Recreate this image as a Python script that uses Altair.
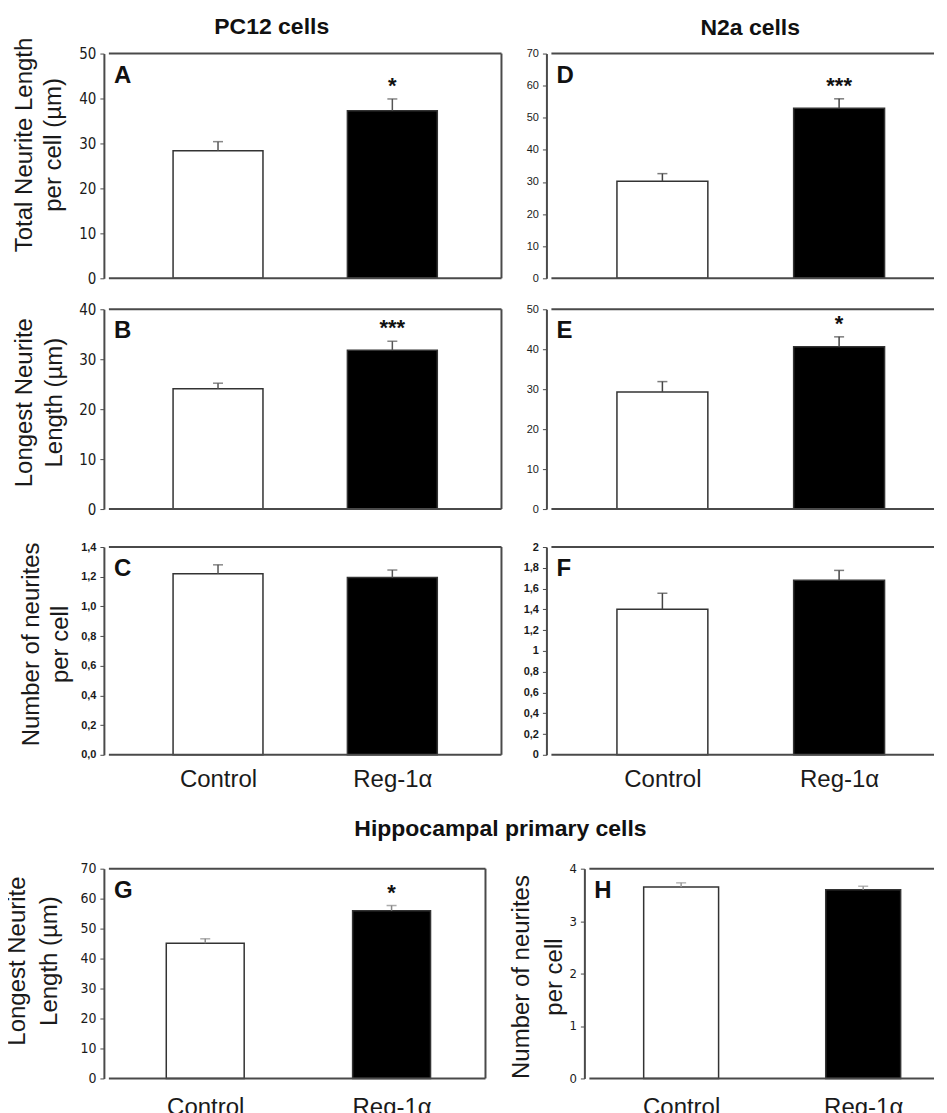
import json
import pandas as pd
import altair as alt

# ---------------- data ----------------
categories = ["Control", "Reg-1α"]
cat_pos = [0, 1]

A_mean = [28.4, 37.3]; A_sem = [2.0, 2.6]; A_sig = ["", "*"]
B_mean = [24.1, 31.8]; B_sem = [1.1, 1.8]; B_sig = ["", "***"]
C_mean = [1.22, 1.195]; C_sem = [0.06, 0.05]; C_sig = ["", ""]
D_mean = [30.2, 53.0]; D_sem = [2.4, 2.9]; D_sig = ["", "***"]
E_mean = [29.3, 40.6]; E_sem = [2.6, 2.5]; E_sig = ["", "*"]
F_mean = [1.40, 1.68]; F_sem = [0.155, 0.095]; F_sig = ["", ""]
G_mean = [45.1, 56.0]; G_sem = [1.5, 1.7]; G_sig = ["", "*"]
H_mean = [3.65, 3.60]; H_sem = [0.08, 0.065]; H_sig = ["", ""]

A_ticks = [0, 10, 20, 30, 40, 50]
B_ticks = [0, 10, 20, 30, 40]
C_ticks = [0.0, 0.2, 0.4, 0.6, 0.8, 1.0, 1.2, 1.4]
D_ticks = [0, 10, 20, 30, 40, 50, 60, 70]
E_ticks = [0, 10, 20, 30, 40, 50]
F_ticks = [0, 0.2, 0.4, 0.6, 0.8, 1, 1.2, 1.4, 1.6, 1.8, 2]
G_ticks = [0, 10, 20, 30, 40, 50, 60, 70]
H_ticks = [0, 1, 2, 3, 4]

title_left = "PC12 cells"
title_right = "N2a cells"
title_bottom = "Hippocampal primary cells"
ytitle_total = ["Total Neurite Length", "per cell (µm)"]
ytitle_longest = ["Longest Neurite", "Length (µm)"]
ytitle_number = ["Number of neurites", "per cell"]

FONT = "Liberation Sans, Arial, Helvetica, sans-serif"
NARROW = "Liberation Sans Narrow, Arial Narrow, DejaVu Sans Condensed, Liberation Sans, sans-serif"
FRAME = "#4a4a4a"


def panel(letter, means, sems, sigs, ydom, yticks, yfmt, comma, xdom, width, height,
          bar_w, plot_h=None, xrange=None, yoffset=0, ytitle=None, title_x=0, title_y=0,
          title_lh=29, show_x=False, right_border=True, lab_font=NARROW, lab_size=15,
          lab_weight="normal", err_color="#555555", heading=None, x_pad=32):
    plot_h = plot_h or height
    xrange = xrange or [0, width]
    df = pd.DataFrame({"cat": categories, "pos": cat_pos, "mean": means,
                       "sem": sems, "sig": sigs})
    df["hi"] = df["mean"] + df["sem"]
    xs = alt.Scale(domain=xdom, range=xrange, nice=False, zero=False)
    ys = alt.Scale(domain=ydom, range=[plot_h, 0], nice=False)

    ykw = dict(values=yticks, tickCount=40, format=yfmt, grid=False, domainColor=FRAME,
               domainWidth=2, tickColor=FRAME, tickSize=4, tickWidth=1, labelFont=lab_font,
               labelFontSize=lab_size, labelFontWeight=lab_weight, labelColor="#1a1a1a",
               labelPadding=4, labelOverlap=False, offset=yoffset)
    if comma:
        ykw["labelExpr"] = "replace(datum.label, '.', ',')"
    if ytitle:
        ykw.update(title=ytitle, titleX=title_x, titleY=title_y, titleAngle=270,
                   titleAlign="center", titleBaseline="alphabetic", titleLineHeight=title_lh,
                   titleFont=FONT, titleFontSize=24, titleFontWeight="normal",
                   titleColor="#1a1a1a")
    else:
        ykw["title"] = None
    yaxis = alt.Axis(**ykw)

    xkw = dict(values=cat_pos, tickCount=40, grid=False, domain=False, ticks=False,
               tickSize=0, title=None)
    if show_x:
        xkw.update(labels=True,
                   labelExpr=json.dumps(categories, ensure_ascii=False) + "[datum.value]",
                   labelFont=FONT, labelFontSize=24, labelColor="#1a1a1a",
                   labelBaseline="alphabetic", labelPadding=x_pad, labelFlush=False,
                   labelOverlap=False)
    else:
        xkw["labels"] = False
    xaxis = alt.Axis(**xkw)

    base = alt.Chart(df)
    bars = base.mark_bar(width=bar_w, stroke="#333333", strokeWidth=1.5).encode(
        x=alt.X("pos:Q", scale=xs, axis=xaxis),
        y=alt.Y("mean:Q", scale=ys, axis=yaxis),
        fill=alt.Fill("cat:N", scale=alt.Scale(domain=categories, range=["white", "black"]),
                      legend=None),
    )
    err = base.mark_rule(color=err_color, strokeWidth=1.5).encode(
        x="pos:Q", y="mean:Q", y2="hi:Q")
    cap = base.mark_tick(orient="horizontal", size=10, thickness=1.5, color=err_color).encode(
        x="pos:Q", y="hi:Q")
    stars = base.mark_text(font=FONT, fontSize=22, fontWeight="bold", baseline="alphabetic",
                           dy=-6, color="#111111").encode(
        x="pos:Q", y="hi:Q", text="sig:N")
    lab = alt.Chart(pd.DataFrame({"label": [letter]})).mark_text(
        font=FONT, fontSize=24, fontWeight="bold", align="left", baseline="alphabetic",
        color="#111111").encode(x=alt.value(xrange[0] + 10), y=alt.value(29), text="label:N")
    one = pd.DataFrame({"k": [0]})
    top = alt.Chart(one).mark_rule(color=FRAME, strokeWidth=2).encode(
        y=alt.datum(ydom[1]), x=alt.datum(xdom[0]), x2=alt.datum(xdom[1]))
    bottom = alt.Chart(one).mark_rule(color=FRAME, strokeWidth=2).encode(
        y=alt.datum(ydom[0]), x=alt.datum(xdom[0]), x2=alt.datum(xdom[1]))
    layers = [bars, err, cap, stars, lab, top, bottom]
    if right_border:
        rb = alt.Chart(one).mark_rule(color=FRAME, strokeWidth=2).encode(
            x=alt.datum(xdom[1]), y=alt.datum(ydom[0]), y2=alt.datum(ydom[1]))
        layers.append(rb)
    if heading is not None:
        htext, hx, hy = heading
        hd = alt.Chart(pd.DataFrame({"t": [htext]})).mark_text(
            font=FONT, fontSize=23, fontWeight="bold", align="center", baseline="alphabetic",
            color="#111111").encode(x=alt.value(hx), y=alt.value(hy), text="t:N")
        layers.append(hd)
    return alt.layer(*layers).properties(width=width, height=height)


def spacer(w, h):
    return alt.Chart(pd.DataFrame({"k": [0]})).mark_point(opacity=0).encode(
        x=alt.value(0), y=alt.value(0)).properties(width=w, height=h)


LX = [-0.626, 1.626]
RX = [-0.628, 1.537]
RW = 393

A = panel("A", A_mean, A_sem, A_sig, [0, 50], A_ticks, "d", False, LX, 403, 225, 90,
          ytitle=ytitle_total, title_x=-72, title_y=91, title_lh=29,
          heading=(title_left, 168, -20))
D = panel("D", D_mean, D_sem, D_sig, [0, 70], D_ticks, "d", False, RX, RW, 225, 91,
          right_border=False, lab_font=FONT, lab_size=11, err_color="#444444",
          heading=(title_right, 204, -19))
B = panel("B", B_mean, B_sem, B_sig, [0, 40], B_ticks, "d", False, LX, 403, 207, 90,
          plot_h=200, ytitle=ytitle_longest, title_x=-72, title_y=93, title_lh=30)
E = panel("E", E_mean, E_sem, E_sig, [0, 50], E_ticks, "d", False, RX, RW, 207, 91,
          plot_h=200, right_border=False, lab_font=FONT, lab_size=11, err_color="#444444")
C = panel("C", C_mean, C_sem, C_sig, [0, 1.4], C_ticks, ".1f", True, LX, 403, 208, 90,
          ytitle=ytitle_number, title_x=-65, title_y=97, title_lh=29, show_x=True,
          lab_font=FONT, lab_size=11, lab_weight="bold")
F = panel("F", F_mean, F_sem, F_sig, [0, 2], F_ticks, ".1~f", True, RX, RW, 208, 91,
          right_border=False, show_x=True, lab_font=FONT, lab_size=11, lab_weight="bold",
          err_color="#444444")
G = panel("G", G_mean, G_sem, G_sig, [0, 70], G_ticks, "d", False, [-0.517, 1.504], 387, 210,
          78, ytitle=ytitle_longest, title_x=-79, title_y=92, title_lh=32, show_x=True,
          lab_size=14, err_color="#888888", x_pad=36,
          heading=(title_bottom, 397, -33))
H = panel("H", H_mean, H_sem, H_sig, [0, 4], H_ticks, "d", False, [-0.504, 1.389], RW, 210,
          75, xrange=[38, RW], yoffset=-38, ytitle=ytitle_number, title_x=-56, title_y=108,
          title_lh=33, show_x=True, right_border=False, lab_size=13, err_color="#999999",
          x_pad=36)

chart = alt.concat(
    A, D, B, E, C, F, spacer(403, 52), spacer(RW, 52), G, H,
    columns=2, spacing={"row": 31, "column": 40}, bounds="flush",
).properties(
    padding={"left": -2, "top": 7, "right": 0, "bottom": 0}
).configure(font=FONT, background="white").configure_view(stroke=None)

chart.save("out.html", embed_options={"renderer": "svg", "actions": False})
